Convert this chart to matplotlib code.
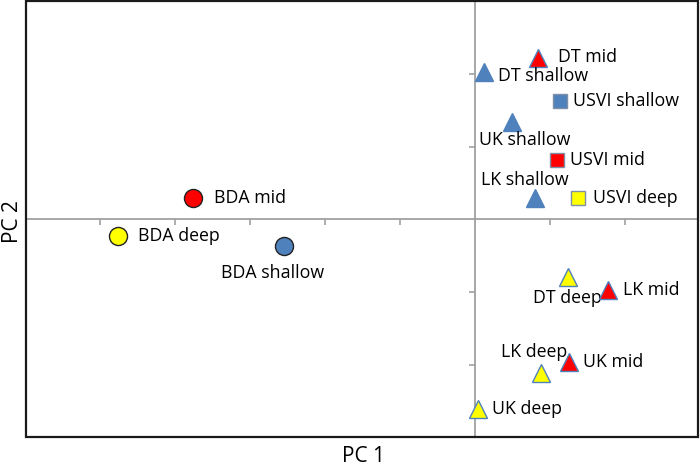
import matplotlib.pyplot as plt
from matplotlib.patches import Rectangle

plt.rcParams['font.family'] = ['Open Sans', 'DejaVu Sans']

# sample names and PCA scores
labels = ['BDA mid', 'BDA deep', 'BDA shallow',
          'DT mid', 'DT shallow', 'USVI shallow', 'UK shallow', 'USVI mid',
          'LK shallow', 'USVI deep', 'DT deep', 'LK mid', 'LK deep', 'UK mid', 'UK deep']
pc1 = [-3.77, -4.76, -2.55,
       0.83, 0.11, 1.13, 0.49, 1.09,
       0.79, 1.37, 1.23, 1.77, 0.88, 1.25, 0.03]
pc2 = [0.30, -0.23, -0.37,
       2.22, 2.03, 1.63, 1.34, 0.82,
       0.29, 0.30, -0.79, -0.97, -2.11, -1.96, -2.60]
depth = ['mid', 'deep', 'shallow',
         'mid', 'shallow', 'shallow', 'shallow', 'mid',
         'shallow', 'deep', 'deep', 'mid', 'deep', 'mid', 'deep']
region = ['BDA', 'BDA', 'BDA',
          'DT', 'DT', 'USVI', 'UK', 'USVI',
          'LK', 'USVI', 'DT', 'LK', 'LK', 'UK', 'UK']

colors = {'shallow': '#4f81bd', 'mid': '#ff0000', 'deep': '#ffff00'}
markers = {'BDA': 'o', 'USVI': 's', 'DT': '^', 'UK': '^', 'LK': '^'}

# label offsets in pixels (dx, dy, horizontal alignment)
offsets = {
    'BDA mid': (21, 0, 'left'), 'BDA deep': (20, 0, 'left'), 'BDA shallow': (-11, -27, 'center'),
    'DT mid': (21, 1, 'left'), 'DT shallow': (14, -4, 'left'), 'USVI shallow': (13, 0, 'left'),
    'UK shallow': (13, -18, 'center'), 'USVI mid': (13, 0, 'left'), 'LK shallow': (-10, 18, 'center'),
    'USVI deep': (15, 0, 'left'), 'DT deep': (0, -21, 'center'), 'LK mid': (15, 0, 'left'),
    'LK deep': (-7, 21, 'center'), 'UK mid': (14, 0, 'left'), 'UK deep': (14, 0, 'left'),
}

fig = plt.figure(figsize=(7, 4.65), dpi=100)
ax = fig.add_axes([26 / 700, 28 / 465, 672 / 700, 436 / 465])

for i, name in enumerate(labels):
    m = markers[region[i]]
    c = colors[depth[i]]
    if m == 'o':
        ec, ms = '#222222', 13
    elif m == 's':
        ec, ms = '#7f8fa6', 10
    else:
        ec, ms = '#4f81bd', 13.5
    ax.plot(pc1[i], pc2[i], marker=m, color=c, markeredgecolor=ec,
            markeredgewidth=1.0, markersize=ms, linestyle='none', zorder=3)
    dx, dy, ha = offsets[name]
    ax.annotate(name, (pc1[i], pc2[i]), xytext=(dx, dy), textcoords='offset pixels',
                ha=ha, va='center', fontsize=12.8, color='black')

ax.set_xlim(-5.99, 2.97)
ax.set_ylim(-2.99, 3.0)

# crosshair axes through the origin
for s in ['top', 'right']:
    ax.spines[s].set_visible(False)
ax.spines['left'].set_position(('data', 0))
ax.spines['bottom'].set_position(('data', 0))
for s in ['left', 'bottom']:
    ax.spines[s].set_color('#a0a0a0')
    ax.spines[s].set_linewidth(1.3)
ax.set_xticks([-5, -4, -3, -2, -1, 1, 2])
ax.set_yticks([-2, -1, 1, 2])
ax.set_xticklabels([])
ax.set_yticklabels([])
ax.tick_params(direction='out', length=4, width=1.2, color='#a0a0a0')

# outer frame
ax.add_patch(Rectangle((0, 0), 1, 1, transform=ax.transAxes, fill=False,
                       edgecolor='#1a1a1a', linewidth=1.6, clip_on=False, zorder=4))

fig.text(363 / 700, 1 - 456 / 465, 'PC 1', ha='center', va='center', fontsize=15)
fig.text(12 / 700, 1 - 222 / 465, 'PC 2', ha='center', va='center', fontsize=15, rotation=90)

fig.savefig('out.png', dpi=100)
